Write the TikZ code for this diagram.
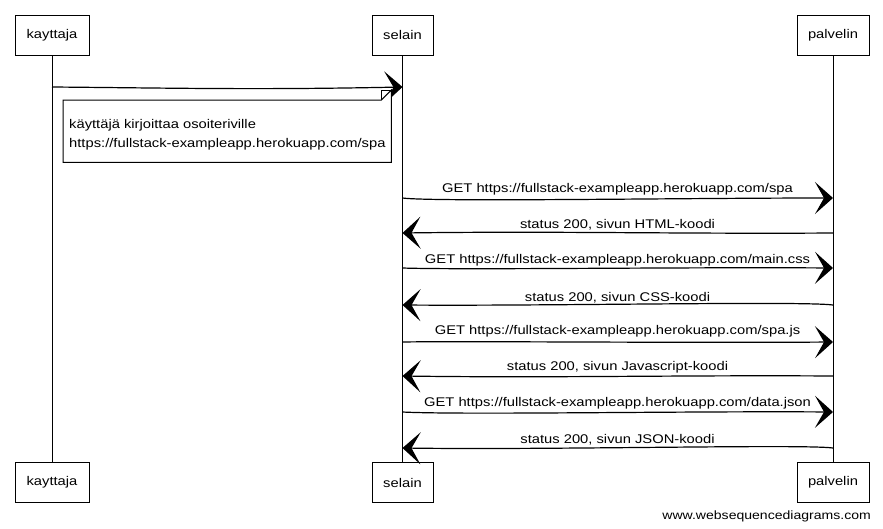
\documentclass[tikz,border=0pt]{standalone}
\usepackage{fontspec}
\setmainfont[FakeStretch=1.17]{Liberation Sans}
\usetikzlibrary{arrows.meta}
\begin{document}
\begin{tikzpicture}[x=1pt,y=-1pt,
  actor/.style={draw,line width=1pt,minimum width=#1,minimum height=40pt,inner sep=0pt,font=\fontsize{12.6}{15}\selectfont},
  life/.style={line width=0.9pt},
  msg/.style={line width=1.2pt,-{Stealth[length=18pt,width=32pt,inset=9pt]}},
  lbl/.style={font=\fontsize{12.6}{15}\selectfont,inner sep=0pt},
  notetext/.style={font=\fontsize{12.6}{18.5}\selectfont,inner sep=0pt,align=left,anchor=north west},
]
\useasboundingbox[fill=white] (0,0) rectangle (883,528);
% actors top
\node[actor=74pt] (kt) at (52,35) {kayttaja};
\node[actor=61pt] (st) at (402.5,35) {selain};
\node[actor=72pt] (pt) at (833,35) {palvelin};
% actors bottom
\node[actor=74pt] (kb) at (52,482.5) {kayttaja};
\node[actor=61pt] (sb) at (402.5,482.5) {selain};
\node[actor=72pt] (pb) at (833,482.5) {palvelin};
% lifelines
\draw[life] (kt.south) -- (kb.north);
\draw[life] (st.south) -- (sb.north);
\draw[life] (pt.south) -- (pb.north);
% message end points
\path (kt.south |- 0,87) coordinate (k0);
\path (st.south |- 0,87) coordinate (s0);
\foreach \n/\y in {1/198,2/233,3/268,4/305,5/342,6/376,7/412,8/448}{
  \path (st.south |- 0,\y) coordinate (s\n);
  \path (pt.south |- 0,\y) coordinate (p\n);
}
% first message and note
\draw[msg] (k0) .. controls +(120,1) and +(-150,3) .. (s0);
\node[notetext,minimum width=328pt,minimum height=62pt] (note) at (63,100) {};
\draw[line width=1pt,fill=white] (note.north west) -- ([xshift=-10pt]note.north east) -- ([yshift=10pt]note.north east) -- (note.south east) -- (note.south west) -- cycle;
\draw[line width=0.8pt] ([xshift=-10pt]note.north east) -- ([xshift=-10pt,yshift=10pt]note.north east) -- ([yshift=10pt]note.north east);
\node[notetext] (notetxt) at (69,119.5) {käyttäjä kirjoittaa osoiteriville\\https://fullstack-exampleapp.herokuapp.com/spa};
% messages
\draw[msg] (s1) .. controls +(30,4) and +(-150,0) .. (p1);
\node[lbl] (l1) at (617.5,189.5) {GET https://fullstack-exampleapp.herokuapp.com/spa};
\draw[msg] (p2) .. controls +(-150,1) and +(150,-2) .. (s2);
\node[lbl] (l2) at (617.5,224.5) {status 200, sivun HTML-koodi};
\draw[msg] (s3) .. controls +(60,2) and +(-150,-1) .. (p3);
\node[lbl] (l3) at (617.5,260.5) {GET https://fullstack-exampleapp.herokuapp.com/main.css};
\draw[msg] (p4) .. controls +(-30,-4) and +(150,1) .. (s4);
\node[lbl] (l4) at (617.5,297.5) {status 200, sivun CSS-koodi};
\draw[msg] (s5) .. controls +(60,-1) and +(-150,1) .. (p5);
\node[lbl] (l5) at (617.5,331.5) {GET https://fullstack-exampleapp.herokuapp.com/spa.js};
\draw[msg] (p6) .. controls +(-150,-1) and +(150,2) .. (s6);
\node[lbl] (l6) at (617.5,367.5) {status 200, sivun Javascript-koodi};
\draw[msg] (s7) .. controls +(60,3) and +(-150,-1) .. (p7);
\node[lbl] (l7) at (617.5,403.5) {GET https://fullstack-exampleapp.herokuapp.com/data.json};
\draw[msg] (p8) .. controls +(-30,-4) and +(150,2) .. (s8);
\node[lbl] (l8) at (617.5,439.5) {status 200, sivun JSON-koodi};
% footer
\node[font=\fontsize{12}{14}\selectfont,inner sep=0pt,anchor=base east] (footer) at (871,519) {www.websequencediagrams.com};
\end{tikzpicture}
\end{document}
